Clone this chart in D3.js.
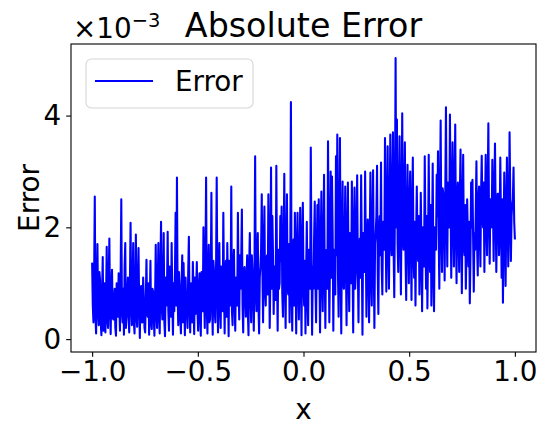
<!DOCTYPE html>
<html>
<head>
<meta charset="utf-8">
<script src="https://cdn.jsdelivr.net/npm/d3@7/dist/d3.min.js"></script>
<style>
  html, body { margin: 0; padding: 0; background: #fff; }
  svg { display: block; font-family: "DejaVu Sans", sans-serif; }
</style>
</head>
<body>
<svg id="chart" width="547" height="433"></svg>
<script>
// ---- data (error values, in units of 1e-3) ----
const titleText = "Absolute Error";
const seriesName = "Error";
const xLabel = "x";
const yLabel = "Error";
const yExponent = -3;
const xRange = [-1, 1];
const xTicks = [-1.0, -0.5, 0.0, 0.5, 1.0];
const yTicks = [0, 2, 4];
const errorValues = [
  1.35,0.6, 0.3,1.1, 2.55,0.4, 0.1,0.9, 1.7,0.5, 0.25,1.2, 1.05,0.3, 0.07,0.8, 1.47,0.15, 0.4,1.0, 0.12,0.7, 1.65,0.35, 0.2,1.1, 1.8,0.5, 0.09,0.9, 1.24,0.4,
  0.35,0.7, 0.9,0.2, 0.06,1.0, 0.75,0.4, 1.18,0.6, 0.15,1.1, 2.5,0.5, 0.3,0.9, 0.08,1.3, 1.72,0.2, 0.45,0.8, 1.1,0.4, 0.12,1.0, 2.08,0.6, 0.25,0.9, 1.72,0.3,
  0.1,0.8, 1.87,0.4, 0.22,1.0, 1.63,0.6, 0.02,0.9, 0.95,0.3, 0.3,1.1, 0.7,0.2, 0.12,0.7, 1.42,0.5, 0.4,1.0, 0.08,0.6, 1.4,0.3, 0.18,0.9, 0.85,0.4, 0.06,0.7,
  1.69,0.5, 0.2,1.0, 1.72,0.4, 0.1,1.2, 2.1,0.6, 0.35,0.9, 1.9,0.3, 0.05,1.1, 0.6,0.9, 1.92,0.5, 0.15,1.3, 1.0,0.4, 1.72,0.7, 0.08,1.0, 0.5,1.2, 2.26,0.6,
  2.89,0.8, 0.25,1.2, 0.9,0.4, 0.1,1.0, 1.5,0.3, 1.36,0.7, 0.07,1.1, 0.6,0.5, 0.2,1.2, 1.83,0.6, 0.12,1.0, 0.8,0.3, 1.38,0.8, 0.09,1.1, 0.45,0.9, 1.38,0.5,
  0.15,0.9, 1.18,0.4, 0.06,1.2, 0.7,0.5, 2.0,0.8, 0.2,1.3, 2.89,0.6, 0.1,1.1, 1.69,0.3, 0.35,1.0, 2.62,0.7, 0.08,1.4, 1.2,0.5, 0.3,1.2, 2.89,0.9, 0.12,1.0,
  1.72,0.6, 0.2,1.3, 0.9,0.5, 2.26,0.9, 0.1,1.2, 1.4,0.4, 1.72,1.0, 0.05,1.4, 0.6,0.8, 2.73,0.5, 0.25,1.3, 1.6,0.7, 0.15,1.1, 1.1,0.6, 2.26,1.0, 0.35,1.5,
  0.9,1.4, 2.32,0.6, 0.12,1.2, 1.29,0.8, 0.4,1.1, 1.5,0.5, 0.07,1.3, 1.9,0.9, 0.3,1.5, 1.2,0.7, 0.15,1.2, 3.27,0.9, 0.5,1.4, 1.9,0.6, 0.1,1.1, 1.3,1.6,
  2.59,1.2, 0.3,1.6, 2.37,0.9, 0.6,1.4, 1.5,0.8, 2.59,1.7, 0.2,1.1, 3.07,0.9, 2.2,1.5, 0.45,1.3, 1.2,0.7, 3.1,1.2, 0.15,1.6, 0.9,1.0, 2.2,1.4, 2.37,0.8,
  0.4,1.5, 2.96,1.1, 0.2,1.6, 2.59,0.9, 0.8,1.7, 0.3,1.3, 4.24,1.0, 0.15,1.5, 1.78,0.6, 2.26,1.2, 0.1,1.6, 2.26,0.9, 0.35,1.4, 2.35,1.1, 0.07,1.7, 2.44,1.0,
  0.6,1.4, 0.1,1.2, 2.1,0.8, 0.25,1.6, 1.4,0.9, 3.43,1.5, 0.08,1.3, 0.9,1.8, 2.46,1.0, 0.3,1.5, 2.4,0.9, 2.5,1.2, 0.12,1.7, 2.64,1.1, 0.5,1.6, 2.94,1.3,
  0.2,1.5, 1.6,0.9, 3.54,1.7, 0.3,1.4, 3.0,1.1, 2.91,1.9, 0.15,1.6, 1.5,0.8, 3.27,1.5, 3.66,1.2, 0.4,2.0, 3.6,1.3, 0.1,1.8, 2.82,1.0, 0.9,1.6, 2.73,1.4,
  0.25,1.7, 2.8,1.2, 0.5,1.9, 1.5,1.0, 2.82,1.4, 0.12,1.8, 2.71,0.9, 1.2,2.0, 2.93,1.3, 0.3,1.6, 1.8,1.1, 2.93,1.5, 0.08,1.9, 1.6,1.2, 3.0,1.7, 0.4,1.5,
  2.14,1.3, 0.3,1.8, 2.98,1.1, 0.6,2.0, 3.02,1.4, 0.2,1.7, 1.9,2.2, 3.1,1.2, 0.45,1.9, 2.2,1.5, 3.16,1.3, 0.8,2.1, 1.7,1.6, 3.6,1.9, 0.85,2.3, 3.45,1.7,
  0.9,2.2, 3.66,1.8, 1.5,2.6, 3.7,1.6, 0.75,2.4, 5.03,2.0, 3.93,1.7, 1.2,2.5, 3.63,1.9, 0.8,2.3, 4.04,1.8, 1.6,2.6, 3.52,1.5, 0.7,2.2, 3.12,1.9, 1.0,2.4,
  3.0,1.8, 0.7,2.3, 3.25,1.5, 1.1,2.1, 0.6,1.9, 2.73,1.6, 1.4,2.2, 0.8,1.4, 2.62,1.7, 0.5,2.0, 1.6,1.3, 3.27,1.9, 0.9,2.2, 0.55,1.6, 3.3,1.8, 1.2,2.4,
  0.6,1.7, 3.14,1.3, 0.5,2.0, 1.8,1.6, 2.94,2.2, 3.36,1.9, 0.9,2.5, 3.91,2.0, 1.2,2.7, 2.6,2.1, 1.05,2.6, 4.15,2.3, 1.3,2.8, 2.2,2.0, 4.02,2.5, 1.1,2.4,
  3.52,2.2, 1.3,2.7, 3.84,2.0, 1.0,2.5, 2.8,1.8, 1.2,2.6, 3.39,1.9, 0.82,2.3, 3.3,1.7, 1.5,2.4, 0.9,1.6, 2.5,1.9, 1.3,2.1, 0.64,1.5, 2.8,2.0, 2.85,1.8,
  0.85,1.9, 1.6,2.3, 3.18,1.7, 1.14,2.5, 2.73,1.9, 1.3,2.6, 3.28,2.2, 2.0,2.8, 1.2,2.4, 3.3,2.1, 1.5,2.7, 3.86,2.2, 1.35,2.5, 2.5,2.0, 3.21,2.3, 1.4,2.6,
  3.5,2.3, 1.2,2.0, 2.6,2.6, 1.5,1.9, 3.25,2.2, 1.1,2.5, 0.65,1.8, 2.98,2.3, 0.95,2.1, 3.25,2.4, 1.3,2.0, 3.7,2.6, 1.4,2.2, 2.4,2.5, 3.07,2.1, 1.8
];

// ---- layout ----
const W = 547, H = 433;
const plot = { left: 71, right: 536, top: 44, bottom: 352 };
const tickFont = 27.8, titleFont = 33.3, labelFont = 27.8;

const n = errorValues.length;
const data = errorValues.map((v, i) => ({ x: xRange[0] + (xRange[1] - xRange[0]) * i / (n - 1), y: v }));

const xPad = (xRange[1] - xRange[0]) * 0.05;
const x = d3.scaleLinear().domain([xRange[0] - xPad, xRange[1] + xPad]).range([plot.left, plot.right]);
const yMin = d3.min(errorValues), yMax = d3.max(errorValues);
const yPad = (yMax - yMin) * 0.05;
const y = d3.scaleLinear().domain([yMin - yPad, yMax + yPad]).range([plot.bottom, plot.top]);

const svg = d3.select("#chart");
svg.append("rect").attr("width", W).attr("height", H).attr("fill", "#fff");

svg.append("clipPath").attr("id", "clip").append("rect")
  .attr("x", plot.left).attr("y", plot.top)
  .attr("width", plot.right - plot.left).attr("height", plot.bottom - plot.top);

const line = d3.line().x(d => x(d.x)).y(d => y(d.y));
svg.append("path").datum(data)
  .attr("clip-path", "url(#clip)")
  .attr("d", line)
  .attr("fill", "none")
  .attr("stroke", "#0000ff")
  .attr("stroke-width", 2.08)
  .attr("stroke-linejoin", "round")
  .attr("stroke-linecap", "square");

const tickLen = 4.86, tickPad = 4.86;
const fmtX = d3.format(".1f");
const xAxis = svg.append("g").attr("transform", `translate(0,${plot.bottom})`)
  .call(d3.axisBottom(x).tickValues(xTicks).tickFormat(fmtX).tickSize(tickLen).tickPadding(tickPad));
const yAxis = svg.append("g").attr("transform", `translate(${plot.left},0)`)
  .call(d3.axisLeft(y).tickValues(yTicks).tickFormat(d3.format("d")).tickSize(tickLen).tickPadding(tickPad));
[xAxis, yAxis].forEach(g => {
  g.select(".domain").remove();
  g.selectAll(".tick line").attr("stroke", "#000").attr("stroke-width", 1.1);
  g.selectAll(".tick text").attr("fill", "#000").style("font-size", tickFont + "px")
    .style("font-family", "DejaVu Sans, sans-serif");
});

svg.append("rect")
  .attr("x", plot.left).attr("y", plot.top)
  .attr("width", plot.right - plot.left).attr("height", plot.bottom - plot.top)
  .attr("fill", "none").attr("stroke", "#000").attr("stroke-width", 1.1);

svg.append("text")
  .attr("x", (plot.left + plot.right) / 2).attr("y", 37)
  .attr("text-anchor", "middle")
  .style("font-size", titleFont + "px")
  .text(titleText);

svg.append("text")
  .attr("x", (plot.left + plot.right) / 2).attr("y", 419)
  .attr("text-anchor", "middle")
  .style("font-size", labelFont + "px")
  .text(xLabel);
svg.append("text")
  .attr("transform", `translate(39,${(plot.top + plot.bottom) / 2}) rotate(-90)`)
  .attr("text-anchor", "middle")
  .style("font-size", labelFont + "px")
  .text(yLabel);

const off = svg.append("text")
  .attr("x", plot.left + 2).attr("y", 38)
  .style("font-size", tickFont + "px");
off.append("tspan").text("\u00d710");
off.append("tspan").attr("dy", -11).style("font-size", (tickFont * 0.7) + "px").text("\u2212" + Math.abs(yExponent));

const lg = svg.append("g");
lg.append("rect")
  .attr("x", 86).attr("y", 59).attr("width", 167).attr("height", 49).attr("rx", 5.5)
  .attr("fill", "#fff").attr("fill-opacity", 0.8)
  .attr("stroke", "#d6d6d6").attr("stroke-width", 1.1);
lg.append("line")
  .attr("x1", 95).attr("x2", 153).attr("y1", 81).attr("y2", 81)
  .attr("stroke", "#0000ff").attr("stroke-width", 2.08);
lg.append("text")
  .attr("x", 175).attr("y", 91)
  .style("font-size", labelFont + "px")
  .text(seriesName);
</script>
</body>
</html>
